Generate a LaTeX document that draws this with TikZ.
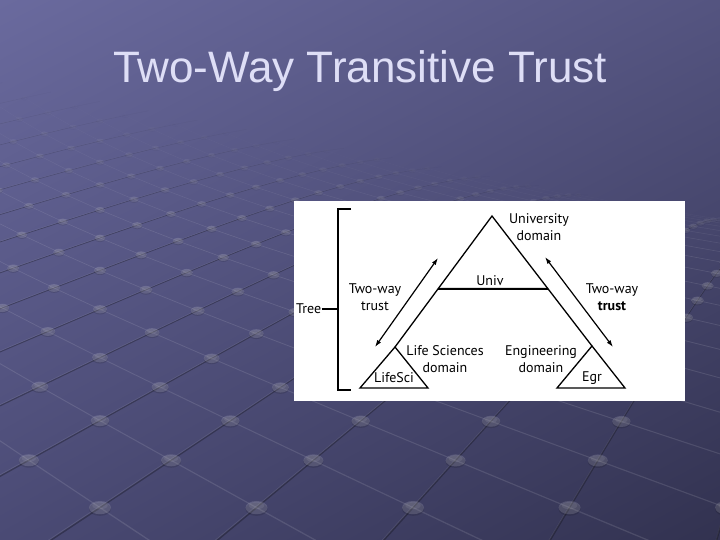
\documentclass[tikz,border=0pt]{standalone}
\usepackage{fontspec}
\setmainfont{Liberation Sans}
\newfontfamily\diag{PT Sans}
\usetikzlibrary{arrows.meta,calc,shadings}
\definecolor{bgTL}{RGB}{106,106,158}
\definecolor{bgTR}{RGB}{84,84,128}
\definecolor{bgBL}{RGB}{74,74,116}
\definecolor{bgBR}{RGB}{50,50,80}
\definecolor{titlecol}{RGB}{222,222,246}
\tikzset{
  lbl/.style={font=\diag\fontsize{14}{16.8}\selectfont, align=center, inner sep=0pt, text=black},
  tline/.style={line width=1.3pt, line join=miter, draw=black},
  trustarrow/.style={line width=1.2pt, {Latex[length=7pt,width=4.6pt]}-{Latex[length=7pt,width=4.6pt]}},
  bracket/.style={line width=1.5pt, draw=black},
}
\begin{document}
\begin{tikzpicture}[x=1pt,y=-1pt]
\useasboundingbox (0,0) rectangle (720,540);
\begin{scope}
\clip (0,0) rectangle (720,540);
\shade[upper left=bgTL, upper right=bgTR, lower left=bgBL, lower right=bgBR] (0,0) rectangle (720,540);
% perspective grid
\foreach \n in {-2,...,21}{
  \pgfmathsetmacro\za{4.83+0.485*(\n)}
  \pgfmathsetmacro\zb{4.83+0.485*(\n+1)}
  \pgfmathsetmacro\sa{756/\za}
  \pgfmathsetmacro\sb{756/\zb}
  \pgfmathsetmacro\ha{-10+2500/\za}
  \pgfmathsetmacro\hb{-10+2500/\zb}
  \pgfmathsetmacro\ta{0.0004*(\n)*(\n)}
  \pgfmathsetmacro\tb{0.0004*(\n+1)*(\n+1)}
  \pgfmathsetmacro\op{max(0,min(1,(22-\n)/12))}
  \pgfmathsetmacro\lw{7/\za}
  \foreach \k in {-16,...,5}{
    \pgfmathsetmacro\xa{100+\sa*(\k+(\n)/2)}
    \pgfmathsetmacro\ya{\ha+\ta*(\xa-360)}
    \pgfmathsetmacro\xb{100+\sb*(\k+(\n+1)/2)}
    \pgfmathsetmacro\yb{\hb+\tb*(\xb-360)}
    \draw[white, opacity=0.09*\op, line width=0.7*\lw] (\xa,\ya-0.9*\lw) -- (\xb,\yb-0.9*\lw);
    \draw[black, opacity=0.28*\op, line width=\lw] (\xa,\ya) -- (\xb,\yb);
  }
  \foreach \k in {-2,...,28}{
    \pgfmathsetmacro\xa{100+\sa*(\k-(\n)/2)}
    \pgfmathsetmacro\ya{\ha+\ta*(\xa-360)}
    \pgfmathsetmacro\xb{100+\sb*(\k-(\n+1)/2)}
    \pgfmathsetmacro\yb{\hb+\tb*(\xb-360)}
    \draw[white, opacity=0.11*\op, line width=0.8*\lw] (\xa,\ya) -- (\xb,\yb);
  }
  \foreach \m in {-4,...,16}{
    \pgfmathsetmacro\xa{100+\sa*(\m+mod(\n+2,2)/2)}
    \pgfmathsetmacro\ya{\ha+\ta*(\xa-360)}
    \pgfmathsetmacro\rx{53/\za}
    \pgfmathsetmacro\ry{32/\za}
    \fill[black, opacity=0.12*\op] (\xa,\ya+0.25*\ry) ellipse ({\rx} and {\ry});
    \fill[white, opacity=0.14*\op] (\xa,\ya) ellipse ({\rx} and {\ry});
    \fill[white, opacity=0.08*\op] (\xa,\ya-0.3*\ry) ellipse ({0.7*\rx} and {0.55*\ry});
  }
}
\end{scope}
% title
\node[font=\fontsize{44}{50}\selectfont, text=titlecol, anchor=base, inner sep=0pt] (title) at (360,83) {Two-Way Transitive Trust};
% white panel
\node[fill=white, minimum width=391pt, minimum height=200pt, anchor=north west, inner sep=0pt] (panel) at (294,201) {};
% geometry
\coordinate (apex) at (492,216);
\coordinate (lsTop) at (395,347);
\coordinate (lsL) at (360,388);
\coordinate (lsR) at (428,388);
\coordinate (egTop) at (592,346);
\coordinate (egL) at (557,388);
\coordinate (egR) at (625,388);
\coordinate (univL) at ($(apex)!0.557!(lsTop)$);
\coordinate (univR) at ($(apex)!0.5615!(egTop)$);
\draw[tline] (lsTop) -- (apex) -- (egTop);
\draw[tline] (lsTop) -- (lsL) -- (lsR) -- cycle;
\draw[tline] (egTop) -- (egL) -- (egR) -- cycle;
\draw[line width=2pt] (univL) -- (univR);
% trust arrows
\coordinate (laB) at (375,347);
\coordinate (laT) at (438,258);
\coordinate (raT) at (545,257);
\coordinate (raB) at (613,347);
\draw[trustarrow] (laB) -- (laT);
\draw[trustarrow] (raT) -- (raB);
% bracket
\coordinate (brT) at (351,209);
\coordinate (brTi) at (338,209);
\coordinate (brBi) at (338,390);
\coordinate (brB) at (351,390);
\coordinate (brM) at (338,309);
\draw[bracket] (brT) -- (brTi) -- (brBi) -- (brB);
\node[lbl, anchor=east] (tree) at (321.5,309) {Tree};
\draw[line width=1.3pt] (tree.east) -- (brM);
% labels
\node[lbl] (univdom) at (539,227) {University\\domain};
\node[lbl] (univ) at (490,281) {Univ};
\node[lbl] (twl) at (375,297.5) {Two-way\\trust};
\node[lbl] (twr) at (612,297.5) {Two-way\\\textbf{trust}};
\node[lbl] (lsdom) at (445,359) {Life Sciences\\domain};
\node[lbl] (egdom) at (541,359) {Engineering\\domain};
\node[lbl] (lifesci) at (394,378) {LifeSci};
\node[lbl] (egr) at (592,378) {Egr};
\end{tikzpicture}
\end{document}
